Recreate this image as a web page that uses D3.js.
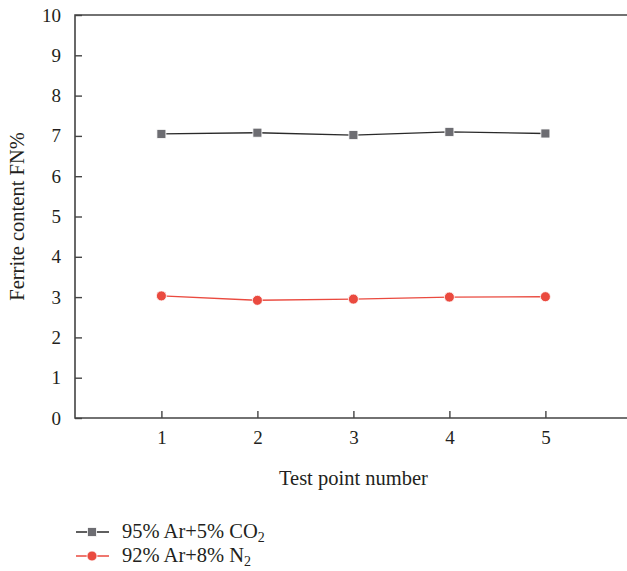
<!DOCTYPE html>
<html>
<head>
  <meta charset="utf-8">
  <script src="https://d3js.org/d3.v7.min.js"></script>
  <style>
    body { margin: 0; background: #fff; }
    text { font-family: "Liberation Serif", "DejaVu Serif", serif; fill: #231f20; }
  </style>
</head>
<body>
<script>
  // Data
  const points = [1, 2, 3, 4, 5];
  const co2Values = [7.05, 7.08, 7.02, 7.10, 7.06];
  const n2Values = [3.03, 2.92, 2.95, 3.00, 3.01];
  const yTicks = [0, 1, 2, 3, 4, 5, 6, 7, 8, 9, 10];

  const series = [
    { name: "95% Ar+5% CO", sub: "2", values: co2Values, line: "#2a2a2a", fill: "#6d6d72", shape: "square" },
    { name: "92% Ar+8% N", sub: "2", values: n2Values, line: "#ea4a3f", fill: "#ea4a3f", shape: "circle" }
  ];

  const width = 627, height = 571;
  const plotLeft = 75, plotRight = 627, plotTop = 15, plotBottom = 418;

  const svg = d3.select("body").append("svg")
      .attr("width", width)
      .attr("height", height);

  const x = d3.scaleLinear().domain([0.1, 5.85]).range([plotLeft, plotRight]);
  const y = d3.scaleLinear().domain([0, 10]).range([plotBottom, plotTop]);

  // frame: top, left and bottom lines
  svg.append("path")
    .attr("d", `M${plotRight},${plotTop}H${plotLeft}V${plotBottom}H${plotRight}`)
    .attr("fill", "none")
    .attr("stroke", "#444")
    .attr("stroke-width", 1.6);

  // y axis with inward ticks
  const yAxis = svg.append("g")
    .attr("transform", `translate(${plotLeft},0)`)
    .call(d3.axisLeft(y).tickValues(yTicks).tickSizeInner(-7).tickSizeOuter(0).tickPadding(14));
  yAxis.select(".domain").remove();
  yAxis.selectAll("line").attr("stroke", "#444").attr("stroke-width", 1.4);
  yAxis.selectAll("text").style("font-size", "19px").attr("fill", "#231f20")
    .style("font-family", "'Liberation Serif', serif");

  // x axis with inward ticks
  const xAxis = svg.append("g")
    .attr("transform", `translate(0,${plotBottom})`)
    .call(d3.axisBottom(x).tickValues(points).tickFormat(d3.format("d")).tickSizeInner(-7).tickSizeOuter(0).tickPadding(13));
  xAxis.select(".domain").remove();
  xAxis.selectAll("line").attr("stroke", "#444").attr("stroke-width", 1.4);
  xAxis.selectAll("text").style("font-size", "19px").attr("fill", "#231f20")
    .style("font-family", "'Liberation Serif', serif");

  // axis titles
  svg.append("text")
    .attr("transform", `translate(24,${(plotTop + plotBottom) / 2}) rotate(-90)`)
    .attr("text-anchor", "middle")
    .style("font-size", "20.5px")
    .text("Ferrite content FN%");

  svg.append("text")
    .attr("x", x(3))
    .attr("y", 485)
    .attr("text-anchor", "middle")
    .style("font-size", "20.5px")
    .text("Test point number");

  // series
  const line = d3.line().x((d, i) => x(points[i])).y(d => y(d));

  function drawMarker(g, s, cx, cy) {
    if (s.shape === "square") {
      g.append("rect")
        .attr("x", cx - 4.5).attr("y", cy - 4.5)
        .attr("width", 9).attr("height", 9)
        .attr("fill", s.fill)
        .attr("stroke", "#fff").attr("stroke-width", 0.8);
    } else {
      g.append("circle")
        .attr("cx", cx).attr("cy", cy).attr("r", 5)
        .attr("fill", s.fill)
        .attr("stroke", "#fff").attr("stroke-width", 0.8);
    }
  }

  series.forEach(s => {
    svg.append("path")
      .attr("d", line(s.values))
      .attr("fill", "none")
      .attr("stroke", s.line)
      .attr("stroke-width", 1.4);
    const g = svg.append("g");
    s.values.forEach((v, i) => drawMarker(g, s, x(points[i]), y(v)));
  });

  // legend
  series.forEach((s, i) => {
    const ly = 532 + i * 24;
    const g = svg.append("g");
    g.append("line")
      .attr("x1", 76).attr("x2", 109)
      .attr("y1", ly).attr("y2", ly)
      .attr("stroke", s.line).attr("stroke-width", 1.4);
    drawMarker(g, s, 92, ly);
    const t = g.append("text")
      .attr("x", 122).attr("y", ly + 6)
      .style("font-size", "20.5px");
    t.append("tspan").text(s.name);
    t.append("tspan").attr("dy", 4).style("font-size", "14px").text(s.sub);
  });
</script>
</body>
</html>
